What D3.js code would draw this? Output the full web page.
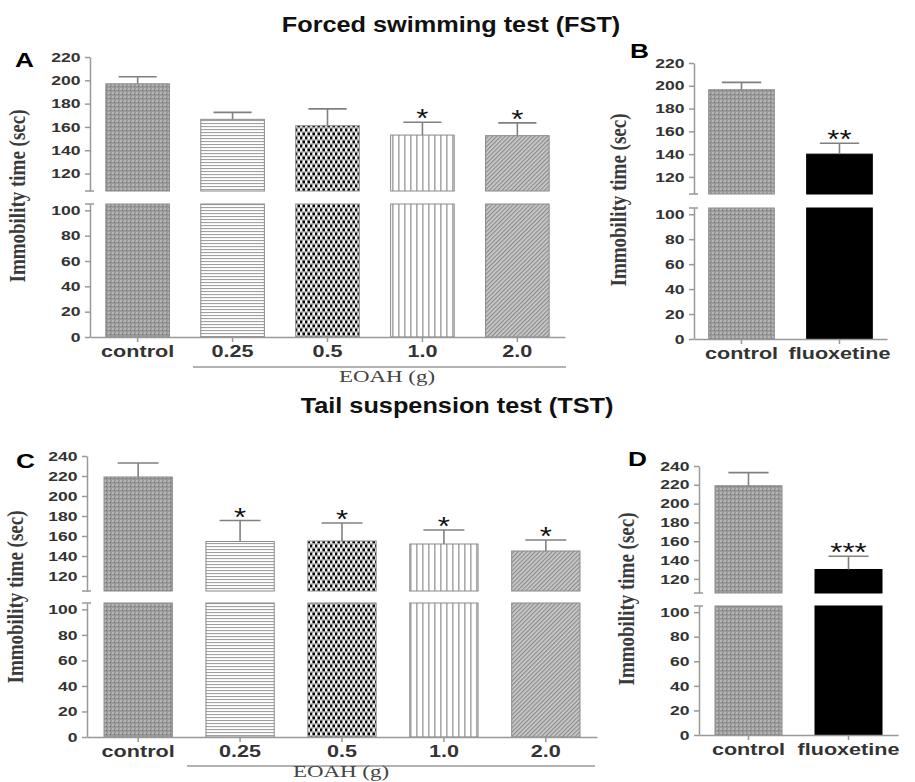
<!DOCTYPE html>
<html>
<head>
  <meta charset="utf-8">
  <title>FST / TST</title>
  <script src="https://d3js.org/d3.v7.min.js"></script>
  <style>
    body { margin: 0; background: #fff; }
  </style>
</head>
<body>
  <div id="chart"></div>
  <script>

    // data (mean, SEM, significance marks)
    var doseGroups = ["control", "0.25", "0.5", "1.0", "2.0"];
    var drugGroups = ["control", "fluoxetine"];

    var fstDoseMean = [197, 166.5, 161, 153, 152.5];
    var fstDoseSem = [6, 6, 14.5, 11, 11];
    var fstDoseSig = ["", "", "", "*", "*"];

    var fstDrugMean = [196.5, 140];
    var fstDrugSem = [6.5, 9.5];
    var fstDrugSig = ["", "**"];

    var tstDoseMean = [219, 154.5, 155, 152, 145];
    var tstDoseSem = [14, 21, 18, 14, 11];
    var tstDoseSig = ["", "*", "*", "*", "*"];

    var tstDrugMean = [219, 130];
    var tstDrugSem = [14, 14];
    var tstDrugSig = ["", "***"];

    var fstUpperTicks = [120, 140, 160, 180, 200, 220];
    var tstUpperTicks = [120, 140, 160, 180, 200, 220, 240];
    var lowerTicks = [0, 20, 40, 60, 80, 100];
    var breakValue = 105;

    var sans = "'Liberation Sans', Arial, sans-serif";
    var serif = "'Liberation Serif', 'Times New Roman', serif";
    var axisColor = "#999";
    var textColor = "#333";

    var svg = d3.select("#chart")
      .append("svg")
      .attr("width", 915)
      .attr("height", 782);

    // fill patterns
    var defs = svg.append("defs");

    var pc = defs.append("pattern").attr("id", "p-control")
      .attr("patternUnits", "userSpaceOnUse").attr("width", 4).attr("height", 4);
    pc.append("rect").attr("width", 4).attr("height", 4).attr("fill", "#9a9a9a");
    pc.append("rect").attr("width", 2).attr("height", 2).attr("fill", "#b5b5b5");
    pc.append("rect").attr("x", 2).attr("y", 2).attr("width", 1).attr("height", 1).attr("fill", "#6c6c6c");

    var ph = defs.append("pattern").attr("id", "p-hlines")
      .attr("patternUnits", "userSpaceOnUse").attr("width", 4).attr("height", 3);
    ph.append("rect").attr("width", 4).attr("height", 3).attr("fill", "#fff");
    ph.append("rect").attr("width", 4).attr("height", 1.1).attr("fill", "#a0a0a0");

    var pd = defs.append("pattern").attr("id", "p-dots")
      .attr("patternUnits", "userSpaceOnUse").attr("width", 5).attr("height", 8);
    pd.append("rect").attr("width", 5).attr("height", 8).attr("fill", "#b5b5b5");
    pd.append("rect").attr("x", 0).attr("y", 0.6).attr("width", 2.5).attr("height", 2.6).attr("fill", "#000");
    pd.append("rect").attr("x", 2.5).attr("y", 0.6).attr("width", 2.5).attr("height", 2.6).attr("fill", "#fff");
    pd.append("rect").attr("x", 0).attr("y", 4.6).attr("width", 2.5).attr("height", 2.6).attr("fill", "#fff");
    pd.append("rect").attr("x", 2.5).attr("y", 4.6).attr("width", 2.5).attr("height", 2.6).attr("fill", "#000");

    var pv = defs.append("pattern").attr("id", "p-vlines")
      .attr("patternUnits", "userSpaceOnUse").attr("width", 6).attr("height", 4);
    pv.append("rect").attr("width", 6).attr("height", 4).attr("fill", "#fff");
    pv.append("rect").attr("x", 2).attr("width", 1.6).attr("height", 4).attr("fill", "#aaa");

    var pg = defs.append("pattern").attr("id", "p-diag")
      .attr("patternUnits", "userSpaceOnUse").attr("width", 3).attr("height", 3)
      .attr("patternTransform", "rotate(45)");
    pg.append("rect").attr("width", 3).attr("height", 3).attr("fill", "#cbcbcb");
    pg.append("rect").attr("width", 1.2).attr("height", 3).attr("fill", "#8a8a8a");

    var fillFor = {
      control: "url(#p-control)",
      hlines: "url(#p-hlines)",
      dots: "url(#p-dots)",
      vlines: "url(#p-vlines)",
      diag: "url(#p-diag)",
      solid: "#000"
    };

    // stretched text helper (the figure is widened horizontally)
    function stretchText(sel, x, y, str, size, sx, opts) {
      opts = opts || {};
      return sel.append("text")
        .attr("transform", "translate(" + x + "," + y + ") scale(" + sx + ",1)" + (opts.rotate ? " rotate(-90)" : ""))
        .attr("text-anchor", opts.anchor || "middle")
        .attr("font-family", opts.family || sans)
        .attr("font-weight", opts.weight || "bold")
        .attr("font-size", size)
        .attr("fill", opts.color || "#111")
        .text(str);
    }

    function drawPanel(p) {
      var g = svg.append("g");

      var rows = p.groups.map(function (d, i) {
        return { group: d, mean: p.mean[i], sem: p.sem[i], sig: p.sig[i], fill: p.fills[i] };
      });

      var x = d3.scaleBand()
        .domain(p.groups)
        .range([p.left, p.right])
        .paddingInner(0.33)
        .paddingOuter(p.outer);

      var yUp = d3.scaleLinear()
        .domain([breakValue, d3.max(p.upperTicks)])
        .range([p.upBottom, p.upTop]);

      var yLo = d3.scaleLinear()
        .domain([0, breakValue])
        .range([p.loBottom, p.loTop]);

      // bars, upper part
      g.selectAll(".barUp")
        .data(rows)
        .enter()
        .append("rect")
        .attr("x", function (d) { return x(d.group); })
        .attr("y", function (d) { return yUp(d.mean); })
        .attr("width", x.bandwidth())
        .attr("height", function (d) { return yUp(breakValue) - yUp(d.mean); })
        .attr("fill", function (d) { return fillFor[d.fill]; })
        .attr("stroke", function (d) { return d.fill == "solid" ? "#000" : "#8a8a8a"; })
        .attr("stroke-width", 1);

      // bars, lower part
      g.selectAll(".barLo")
        .data(rows)
        .enter()
        .append("rect")
        .attr("x", function (d) { return x(d.group); })
        .attr("y", yLo(breakValue))
        .attr("width", x.bandwidth())
        .attr("height", yLo(0) - yLo(breakValue))
        .attr("fill", function (d) { return fillFor[d.fill]; })
        .attr("stroke", function (d) { return d.fill == "solid" ? "#000" : "#8a8a8a"; })
        .attr("stroke-width", 1);

      // error bars (upper only)
      var cx = function (d) { return x(d.group) + x.bandwidth() / 2; };
      var capW = x.bandwidth() * 0.3;
      g.selectAll(".err")
        .data(rows)
        .enter()
        .append("line")
        .attr("x1", cx).attr("x2", cx)
        .attr("y1", function (d) { return yUp(d.mean); })
        .attr("y2", function (d) { return yUp(d.mean + d.sem); })
        .attr("stroke", "#808080").attr("stroke-width", 1.6);
      g.selectAll(".cap")
        .data(rows)
        .enter()
        .append("line")
        .attr("x1", function (d) { return cx(d) - capW; })
        .attr("x2", function (d) { return cx(d) + capW; })
        .attr("y1", function (d) { return yUp(d.mean + d.sem); })
        .attr("y2", function (d) { return yUp(d.mean + d.sem); })
        .attr("stroke", "#808080").attr("stroke-width", 1.6);

      // significance stars
      rows.forEach(function (d) {
        if (d.sig) {
          stretchText(g, cx(d), yUp(d.mean + d.sem) + 5, d.sig, 26, 1.2, { weight: "normal", color: "#111" });
        }
      });

      // y axes (broken)
      var upAxis = g.append("g")
        .attr("transform", "translate(" + p.left + ",0)")
        .call(d3.axisLeft(yUp).tickValues(p.upperTicks).tickSizeInner(5).tickSizeOuter(0).tickPadding(2));
      var loAxis = g.append("g")
        .attr("transform", "translate(" + p.left + ",0)")
        .call(d3.axisLeft(yLo).tickValues(lowerTicks).tickSizeInner(5).tickSizeOuter(0).tickPadding(2));

      // x axis
      var xAxis = g.append("g")
        .attr("transform", "translate(0," + yLo(0) + ")")
        .call(d3.axisBottom(x).tickSizeInner(5).tickSizeOuter(0).tickPadding(4));

      [upAxis, loAxis, xAxis].forEach(function (a) {
        a.select(".domain").attr("stroke", axisColor).attr("stroke-width", 1.5);
        a.selectAll(".tick line").attr("stroke", axisColor).attr("stroke-width", 1.5);
        a.selectAll("text")
          .attr("fill", textColor)
          .attr("font-family", sans)
          .attr("font-weight", "bold");
      });
      upAxis.selectAll("text").attr("font-size", 13).attr("transform", "scale(1.35,1)");
      loAxis.selectAll("text").attr("font-size", 13).attr("transform", "scale(1.35,1)");
      xAxis.selectAll("text").attr("font-size", 16).attr("transform", "scale(1.35,1)");

      // break marks
      [yUp(breakValue), yLo(breakValue)].forEach(function (yy) {
        g.append("line")
          .attr("x1", p.left - 5).attr("x2", p.left + 4)
          .attr("y1", yy).attr("y2", yy)
          .attr("stroke", axisColor).attr("stroke-width", 1.5);
      });

      // y label
      stretchText(g, p.ylab[0], p.ylab[1], "Immobility time (sec)", 19, 1.25,
        { rotate: true, family: serif, weight: "bold", color: "#3a3a3a" });

      // panel letter
      stretchText(g, p.letter[0], p.letter[1], p.letter[2], 21, 1.25, { anchor: "start", color: "#000" });

      // dose bracket
      if (p.bracket) {
        g.append("line")
          .attr("x1", p.bracket.x1).attr("x2", p.bracket.x2)
          .attr("y1", p.bracket.y).attr("y2", p.bracket.y)
          .attr("stroke", axisColor).attr("stroke-width", 1.5);
        stretchText(g, p.bracket.tx, p.bracket.ty, "EOAH (g)", 17, 1.35,
          { family: serif, weight: "normal", color: "#444" });
      }
    }

    drawPanel({
      groups: doseGroups, mean: fstDoseMean, sem: fstDoseSem, sig: fstDoseSig,
      fills: ["control", "hlines", "dots", "vlines", "diag"],
      upperTicks: fstUpperTicks,
      left: 90, right: 565, outer: 0.167,
      upTop: 57, upBottom: 191, loTop: 204, loBottom: 337,
      ylab: [25, 196], letter: [15, 67, "A"],
      bracket: { x1: 193, x2: 566, y: 367, tx: 387, ty: 382 }
    });

    drawPanel({
      groups: drugGroups, mean: fstDrugMean, sem: fstDrugSem, sig: fstDrugSig,
      fills: ["control", "solid"],
      upperTicks: fstUpperTicks,
      left: 694, right: 887, outer: 0.15,
      upTop: 63, upBottom: 194, loTop: 208, loBottom: 339,
      ylab: [626, 200], letter: [630, 58, "B"]
    });

    drawPanel({
      groups: doseGroups, mean: tstDoseMean, sem: tstDoseSem, sig: tstDoseSig,
      fills: ["control", "hlines", "dots", "vlines", "diag"],
      upperTicks: tstUpperTicks,
      left: 87, right: 597, outer: 0.167,
      upTop: 456, upBottom: 591, loTop: 603, loBottom: 737,
      ylab: [23, 597], letter: [16, 468, "C"],
      bracket: { x1: 187, x2: 595, y: 766, tx: 341, ty: 777 }
    });

    drawPanel({
      groups: drugGroups, mean: tstDrugMean, sem: tstDrugSem, sig: tstDrugSig,
      fills: ["control", "solid"],
      upperTicks: tstUpperTicks,
      left: 699, right: 898, outer: 0.16,
      upTop: 466, upBottom: 593, loTop: 606, loBottom: 735,
      ylab: [634, 599], letter: [628, 466, "D"]
    });

    // section titles
    stretchText(svg, 451, 32, "Forced swimming test (FST)", 22, 1.15, { color: "#111" });
    stretchText(svg, 457, 413, "Tail suspension test (TST)", 22, 1.15, { color: "#111" });

  </script>
</body>
</html>
